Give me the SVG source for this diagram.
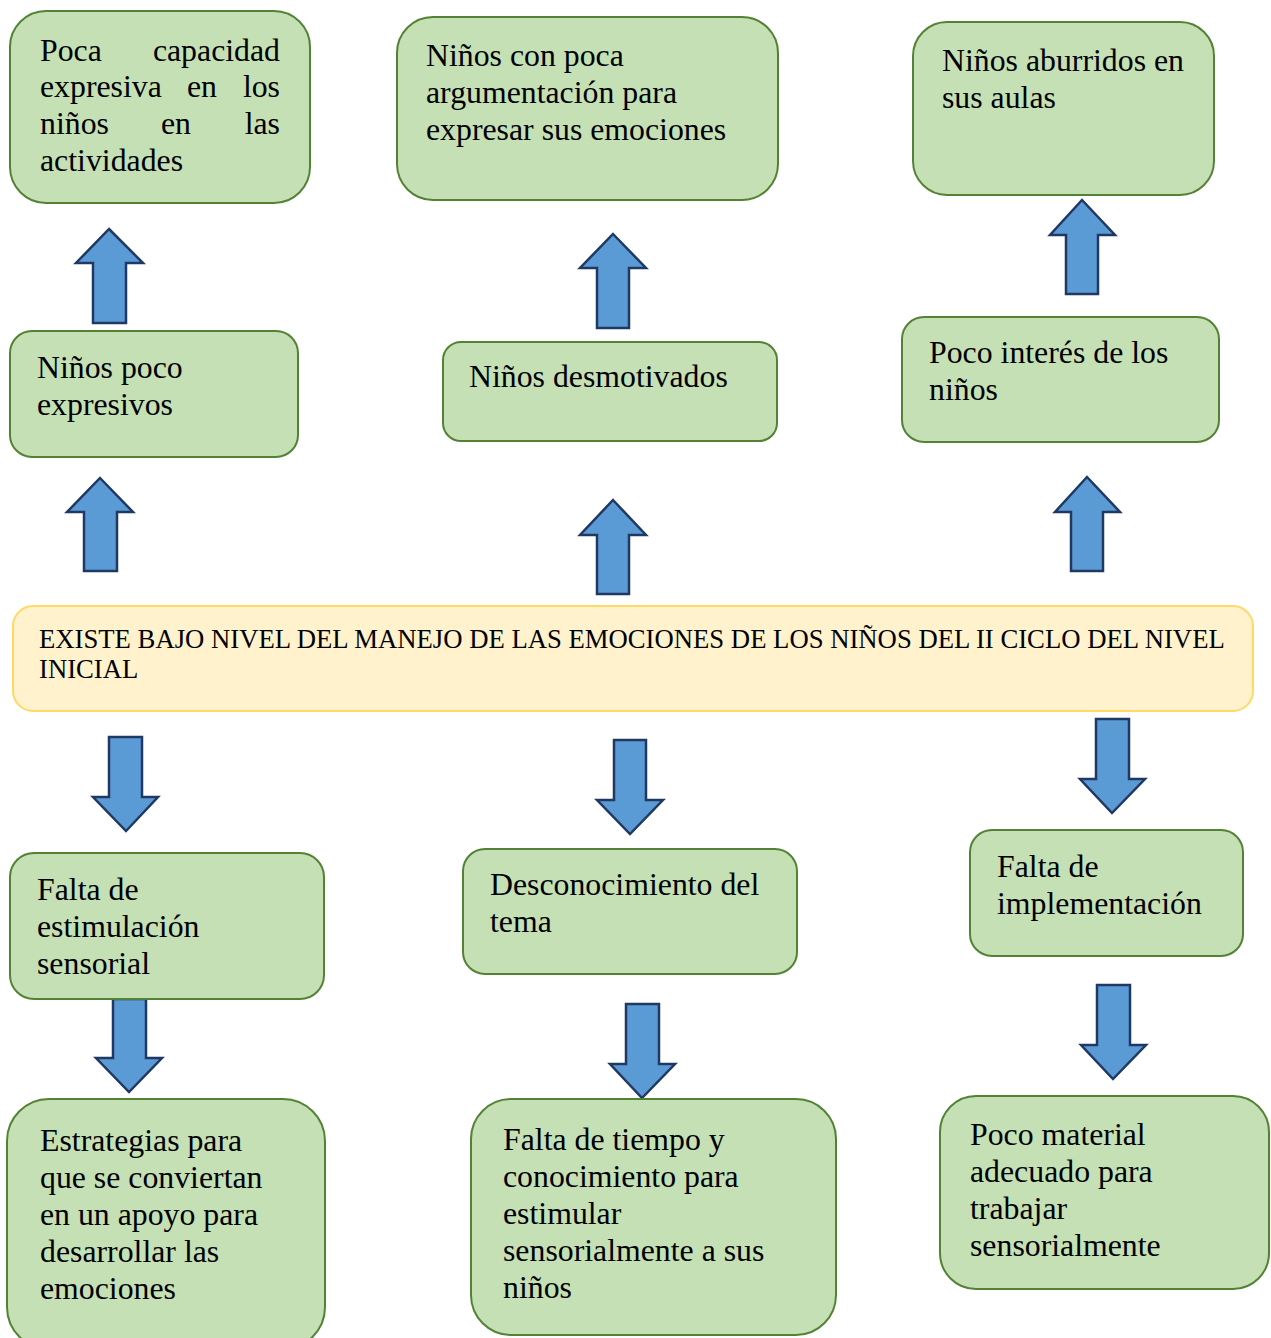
<svg xmlns="http://www.w3.org/2000/svg" width="1271" height="1338" viewBox="0 0 1271 1338">
<style>
.box{fill:#C5E0B4;stroke:#548235;stroke-width:2}
.main{fill:#FFF2CC;stroke:#FFD966;stroke-width:2}
.t{font-family:"Liberation Serif","Times New Roman",serif;font-size:31.8px;fill:#000}
.tm{font-family:"Liberation Serif","Times New Roman",serif;font-size:26.7px;fill:#000}
.arr{fill:#5B9BD5;stroke:#203864;stroke-width:2.5;stroke-linejoin:miter}
</style>
<rect width="1271" height="1338" fill="#fff"/>
<g id="connectors">
<polygon class="arr" points="109,229 143,263 126,263 126,323 93,323 93,263 76,263"/>
<polygon class="arr" points="100,478 133,512 117,512 117,571 84,571 84,512 67,512"/>
<polygon class="arr" points="613,234 646,268 629,268 629,328 597,328 597,268 580,268"/>
<polygon class="arr" points="613,500 646,535 629,535 629,594 597,594 597,535 580,535"/>
<polygon class="arr" points="1082,200 1115,235 1098,235 1098,294 1066,294 1066,235 1050,235"/>
<polygon class="arr" points="1087,477 1120,512 1103,512 1103,571 1071,571 1071,512 1055,512"/>
<polygon class="arr" points="109,737 142,737 142,797 158,797 126,831 93,797 109,797"/>
<polygon class="arr" points="614,740 646,740 646,800 663,800 630,834 597,800 614,800"/>
<polygon class="arr" points="1096,719 1129,719 1129,779 1145,779 1112,813 1080,779 1096,779"/>
<polygon class="arr" points="113,999 146,999 146,1058 162,1058 129,1092 96,1058 113,1058"/>
<polygon class="arr" points="626,1004 659,1004 659,1064 675,1064 642,1098 610,1064 626,1064"/>
<polygon class="arr" points="1097,985 1130,985 1130,1045 1146,1045 1113,1079 1081,1045 1097,1045"/>
</g>
<g id="nodeA">
<rect class="box" x="10" y="11" width="300" height="192" rx="36"/>
<text class="t" x="40" y="61">Poca</text><text class="t" x="280" y="61" text-anchor="end">capacidad</text>
<text class="t" x="40" y="97">expresiva</text><text class="t" x="187" y="97">en</text><text class="t" x="280" y="97" text-anchor="end">los</text>
<text class="t" x="40" y="134">niños</text><text class="t" x="161" y="134">en</text><text class="t" x="280" y="134" text-anchor="end">las</text>
<text class="t" x="40" y="171">actividades</text>
</g>
<g id="nodeB">
<rect class="box" x="397" y="17" width="381" height="183" rx="36"/>
<text class="t" x="426" y="66">Niños con poca</text>
<text class="t" x="426" y="103">argumentación para</text>
<text class="t" x="426" y="140">expresar sus emociones</text>
</g>
<g id="nodeC">
<rect class="box" x="913" y="22" width="301" height="173" rx="34"/>
<text class="t" x="942" y="71">Niños aburridos en</text>
<text class="t" x="942" y="108">sus aulas</text>
</g>
<g id="nodeD">
<rect class="box" x="10" y="331" width="288" height="126" rx="22"/>
<text class="t" x="37" y="378">Niños poco</text>
<text class="t" x="37" y="415">expresivos</text>
</g>
<g id="nodeE">
<rect class="box" x="443" y="342" width="334" height="99" rx="18"/>
<text class="t" x="469" y="387">Niños desmotivados</text>
</g>
<g id="nodeF">
<rect class="box" x="902" y="317" width="317" height="125" rx="22"/>
<text class="t" x="929" y="363">Poco interés de los</text>
<text class="t" x="929" y="400">niños</text>
</g>
<g id="nodeMain">
<rect class="main" x="13" y="606" width="1240" height="105" rx="20"/>
<text class="tm" x="39" y="648">EXISTE BAJO NIVEL DEL MANEJO DE LAS EMOCIONES DE LOS NIÑOS DEL II CICLO DEL NIVEL</text>
<text class="tm" x="39" y="678">INICIAL</text>
</g>
<g id="nodeG">
<rect class="box" x="10" y="853" width="314" height="146" rx="24"/>
<text class="t" x="37" y="900">Falta de</text>
<text class="t" x="37" y="937">estimulación</text>
<text class="t" x="37" y="974">sensorial</text>
</g>
<g id="nodeH">
<rect class="box" x="463" y="849" width="334" height="125" rx="22"/>
<text class="t" x="490" y="895">Desconocimiento del</text>
<text class="t" x="490" y="932">tema</text>
</g>
<g id="nodeI">
<rect class="box" x="970" y="830" width="273" height="126" rx="22"/>
<text class="t" x="997" y="877">Falta de</text>
<text class="t" x="997" y="914">implementación</text>
</g>
<g id="nodeJ">
<rect class="box" x="7" y="1099" width="318" height="250" rx="42"/>
<text class="t" x="40" y="1151">Estrategias para</text>
<text class="t" x="40" y="1188">que se conviertan</text>
<text class="t" x="40" y="1225">en un apoyo para</text>
<text class="t" x="40" y="1262">desarrollar las</text>
<text class="t" x="40" y="1299">emociones</text>
</g>
<g id="nodeK">
<rect class="box" x="471" y="1099" width="365" height="236" rx="40"/>
<text class="t" x="503" y="1150">Falta de tiempo y</text>
<text class="t" x="503" y="1187">conocimiento para</text>
<text class="t" x="503" y="1224">estimular</text>
<text class="t" x="503" y="1261">sensorialmente a sus</text>
<text class="t" x="503" y="1298">niños</text>
</g>
<g id="nodeL">
<rect class="box" x="940" y="1096" width="329" height="193" rx="36"/>
<text class="t" x="970" y="1145">Poco material</text>
<text class="t" x="970" y="1182">adecuado para</text>
<text class="t" x="970" y="1219">trabajar</text>
<text class="t" x="970" y="1256">sensorialmente</text>
</g>
</svg>
